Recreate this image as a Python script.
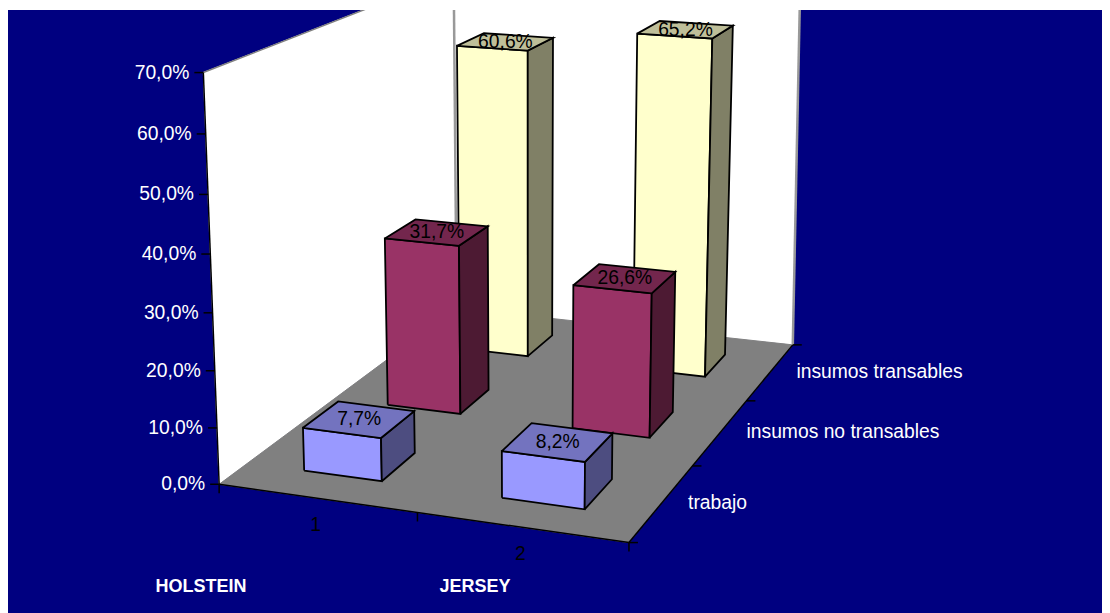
import numpy as np, pandas as pd, altair as alt

categories = ["1", "2"]
series = ["trabajo", "insumos no transables", "insumos transables"]
trabajo = [7.7, 8.2]
no_transables = [31.7, 26.6]
transables = [60.6, 65.2]
values = [trabajo, no_transables, transables]
ticks = [0, 10, 20, 30, 40, 50, 60, 70]
brands = ["HOLSTEIN", "JERSEY"]

# perspective camera of the 3-D chart: (category, series, value) -> page pixel
P = np.array([[185.293275, 117.1230666, -0.3664278, 219.1408627],
              [12.2418251, -33.1211428, -5.9314201, 484.2558503],
              [-0.031181, 0.0831445, -0.0006922, 1.0]])
a, b, c, d = 0.295, 0.695, 0.3, 0.7
FONT = "Liberation Sans"

def proj(X, Y, Z):
    q = P @ np.array([X, Y, Z, 1.0])
    return float(q[0] / q[2]), float(q[1] / q[2])

x_s = alt.Scale(domain=[8, 1102], range=[0, 1094], nice=False, zero=False)
y_s = alt.Scale(domain=[10, 613], range=[0, 603], nice=False, zero=False)
enc = dict(x=alt.X("px:Q", scale=x_s, axis=None), y=alt.Y("py:Q", scale=y_s, axis=None))
layers = []

def poly(pp, fill, stroke=None, sw=1.8):
    cl = list(pp) + [pp[0]]
    df = pd.DataFrame({"px": [p[0] for p in cl], "py": [p[1] for p in cl], "o": range(len(cl))})
    layers.append(alt.Chart(df).mark_line(fill=fill, stroke=stroke or fill, strokeWidth=sw, clip=True, strokeJoin="miter")
                  .encode(order="o:Q", **enc))

def seg(p, q, stroke, sw=1.5):
    df = pd.DataFrame({"px": [p[0], q[0]], "py": [p[1], q[1]], "o": [0, 1]})
    layers.append(alt.Chart(df).mark_line(stroke=stroke, strokeWidth=sw, clip=True).encode(order="o:Q", **enc))

def text(rows, **kw):
    df = pd.DataFrame(rows, columns=["px", "py", "t"])
    layers.append(alt.Chart(df).mark_text(font=FONT, **kw).encode(text="t:N", **enc))

tr = proj(2, 3, 70)
tr = (tr[0] - 4, tr[1])
poly([proj(0, 0, 0), proj(0, 3, 0), proj(0, 3, 70), proj(0, 0, 70)], "white", sw=1)
poly([proj(0, 3, 0), proj(2, 3, 0), tr, proj(0, 3, 70)], "white", sw=1)
poly([proj(0, 0, 0), proj(2, 0, 0), proj(2, 3, 0), proj(0, 3, 0)], "#808080", sw=1)
seg(proj(0, 0, 70), proj(0, 3, 70), "#808080", 1.5)
seg(proj(0, 3, 0), proj(0, 3, 70), "#999999", 2.5)
seg(proj(2, 3, 0), tr, "#999999", 2.5)
seg(proj(0, 0, 0), proj(0, 0, 70), "#000000", 1.5)
seg(proj(0, 0, 0), proj(2, 0, 0), "#000000", 1.5)
seg(proj(2, 0, 0), proj(2, 3, 0), "#000000", 1.5)
for z in ticks:
    p = proj(0, 0, z)
    seg((p[0] - 9, p[1]), p, "#000000", 1.5)
for X in (0, 1, 2):
    p = proj(X, 0, 0)
    seg(p, (p[0], p[1] + 9), "#000000", 1.5)
for Y in (0, 1, 2, 3):
    p = proj(2, Y, 0)
    seg(p, (p[0] + 9, p[1]), "#000000", 1.5)

colors = [("#9999FF", "#7373BF", "#4D4D80"), ("#993366", "#73264D", "#4D1A33"), ("#FFFFCC", "#BFBF99", "#808066")]
for j in (2, 1, 0):
    for i in range(len(categories)):
        v = values[j][i]
        x0, x1, y0, y1 = i + a, i + b, j + c, j + d
        F, T, R = colors[j]
        poly([proj(x0, y0, 0), proj(x1, y0, 0), proj(x1, y0, v), proj(x0, y0, v)], F, "#000000")
        poly([proj(x1, y0, 0), proj(x1, y1, 0), proj(x1, y1, v), proj(x1, y0, v)], R, "#000000")
        poly([proj(x0, y0, v), proj(x1, y0, v), proj(x1, y1, v), proj(x0, y1, v)], T, "#000000")

fmt = lambda v: f"{v:.1f}%".replace(".", ",")
labs = []
for j in range(3):
    for i in range(2):
        v = values[j][i]
        p = proj(i + (a + b) / 2, j + (c + d) / 2, v)
        labs.append((p[0], p[1], fmt(v)))
FS = 19.3
text(labs, fontSize=FS, color="#000000", align="center", baseline="middle")
text([(proj(0, 0, z)[0] - 14, proj(0, 0, z)[1], fmt(z)) for z in ticks], fontSize=FS, color="#FFFFFF", align="right", baseline="middle")
text([(proj(2, j + .5, 0)[0] + 26, proj(2, j + .5, 0)[1], s) for j, s in enumerate(series)], fontSize=FS, color="#FFFFFF", align="left", baseline="middle")
text([(proj(i + .5, 0, 0)[0] - 1, proj(i + .5, 0, 0)[1] + 27, t) for i, t in enumerate(categories)], fontSize=FS, color="#000000", align="center", baseline="middle")
text([(201, 587, brands[0]), (475, 587, brands[1])], fontSize=18, fontWeight="bold", color="#FFFFFF", align="center", baseline="middle")

chart = alt.layer(*layers).properties(
    width=1094, height=603, background="white",
    padding={"left": 0, "top": 2, "right": 0, "bottom": 0},
    autosize=alt.AutoSizeParams(type="none"),
).configure_view(fill="#000080", stroke=None)
chart.save("out.html", embed_options={"renderer": "svg", "actions": False})
